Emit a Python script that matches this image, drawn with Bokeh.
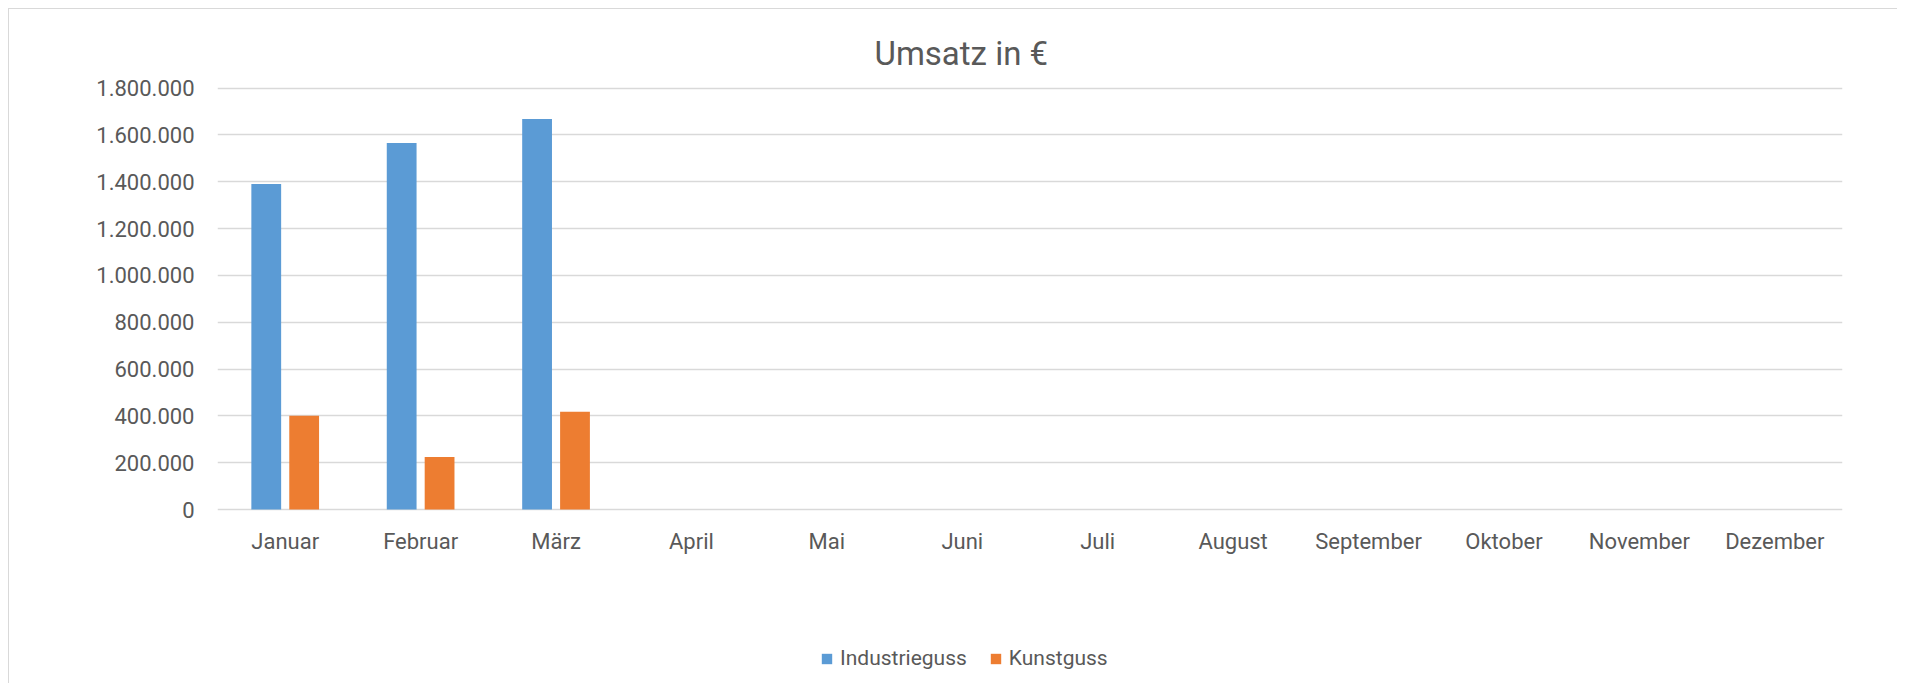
from bokeh.plotting import figure
from bokeh.models import ColumnDataSource, FactorRange, FixedTicker, Legend, LegendItem, Range1d
from bokeh.transform import dodge
from bokeh.embed import file_html
from bokeh.resources import INLINE

# ---- data ----
months = ["Januar", "Februar", "März", "April", "Mai", "Juni", "Juli",
          "August", "September", "Oktober", "November", "Dezember"]
data_months = ["Januar", "Februar", "März"]
industrieguss = [1390000, 1565000, 1668000]
kunstguss = [400000, 224000, 417000]
y_ticks = [0, 200000, 400000, 600000, 800000, 1000000, 1200000, 1400000, 1600000, 1800000]
y_tick_labels = ["0", "200.000", "400.000", "600.000", "800.000", "1.000.000",
                 "1.200.000", "1.400.000", "1.600.000", "1.800.000"]
title_text = "Umsatz in €"
series_names = ["Industrieguss", "Kunstguss"]
colors = ["#5B9BD5", "#ED7D31"]

FONT = "Roboto"
TXT = "#595959"
GRID = "#d9d9d9"

# ---- layout (pixels) ----
W, H = 1889, 675
frame_top, frame_bottom = 76, 670        # canvas px
zero_px, max_px = 500.0, 78.5             # canvas px of value 0 and of axis max
axis_max = y_ticks[-1]
upp = axis_max / (zero_px - max_px)       # value units per pixel
y_start = -(frame_bottom - zero_px) * upp
y_end = axis_max + (max_px - frame_top) * upp

source = ColumnDataSource(dict(month=data_months, ind=industrieguss, kun=kunstguss))

p = figure(width=W, height=H, output_backend="svg", toolbar_location=None,
           x_range=FactorRange(*months), y_range=Range1d(y_start, y_end),
           min_border_left=208, min_border_right=56, min_border_top=frame_top,
           min_border_bottom=H - frame_bottom,
           styles={"margin-left": "8px", "margin-top": "8px",
                   "border-left": f"1px solid {GRID}", "border-top": f"1px solid {GRID}"})
p.outline_line_color = None
p.background_fill_color = "white"
p.border_fill_color = "white"
p.x_range.range_padding = 0
p.x_range.factor_padding = 0

r1 = p.vbar(x=dodge("month", -0.14, range=p.x_range), top="ind", width=0.22,
            source=source, color=colors[0], line_color=None)
r2 = p.vbar(x=dodge("month", 0.14, range=p.x_range), top="kun", width=0.22,
            source=source, color=colors[1], line_color=None)

# title
p.title.text = title_text
p.title.align = "left"
p.title.offset = 657
p.title.standoff = 26
p.title.text_font = FONT
p.title.text_font_size = "33px"
p.title.text_font_style = "normal"
p.title.text_color = TXT

# axes
p.xaxis.fixed_location = 0
p.yaxis.ticker = FixedTicker(ticks=y_ticks)
p.yaxis.major_label_overrides = {t: l for t, l in zip(y_ticks, y_tick_labels)}
for ax in (p.xaxis[0], p.yaxis[0]):
    ax.axis_line_color = None
    ax.major_tick_line_color = None
    ax.minor_tick_line_color = None
    ax.major_tick_in = 0
    ax.major_tick_out = 0
    ax.major_label_text_font = FONT
    ax.major_label_text_font_size = "22px"
    ax.major_label_text_color = TXT
p.yaxis.major_label_standoff = 23
p.xaxis.major_label_standoff = 19

p.xgrid.grid_line_color = None
p.ygrid.ticker = FixedTicker(ticks=y_ticks)
p.ygrid.grid_line_color = GRID
p.ygrid.grid_line_width = 1.5

legend = Legend(items=[LegendItem(label=series_names[0], renderers=[r1]),
                       LegendItem(label=series_names[1], renderers=[r2])],
                location=(603, 9), orientation="horizontal",
                glyph_width=13, glyph_height=13, label_standoff=7, spacing=22,
                padding=0, margin=0, border_line_color=None, background_fill_alpha=0,
                label_text_font=FONT, label_text_font_size="21px", label_text_color=TXT)
p.add_layout(legend, "center")

open("out.html", "w").write(file_html(p, INLINE))
